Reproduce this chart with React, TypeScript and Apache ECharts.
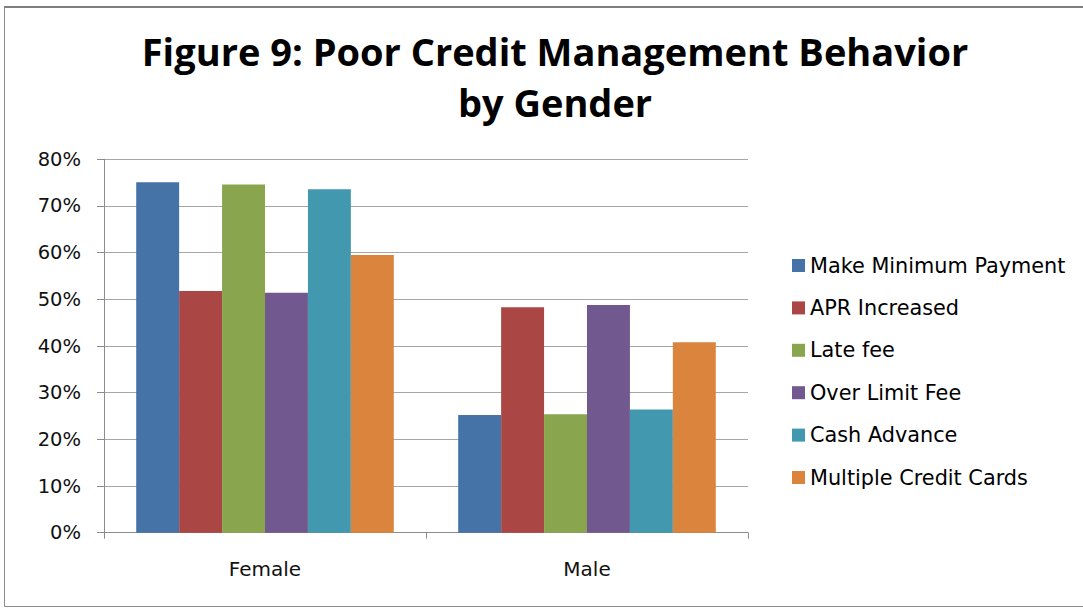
import React, { useEffect, useRef } from "react";
import * as echarts from "echarts";

const categories = ["Female", "Male"];
const seriesNames = [
  "Make Minimum Payment",
  "APR Increased",
  "Late fee",
  "Over Limit Fee",
  "Cash Advance",
  "Multiple Credit Cards",
];
const makeMinimumPayment = [75.1, 25.2];
const aprIncreased = [51.8, 48.3];
const lateFee = [74.6, 25.4];
const overLimitFee = [51.4, 48.8];
const cashAdvance = [73.6, 26.4];
const multipleCreditCards = [59.5, 40.8];
const seriesValues = [
  makeMinimumPayment,
  aprIncreased,
  lateFee,
  overLimitFee,
  cashAdvance,
  multipleCreditCards,
];
const colors = ["#4572A7", "#AA4643", "#89A54E", "#71588F", "#4198AF", "#DB843D"];
const titleText = "Figure 9: Poor Credit Management Behavior\nby Gender";

export default function App() {
  const ref = useRef<HTMLDivElement>(null);
  useEffect(() => {
    document.body.style.margin = "0";
    if (!ref.current) return;
    const chart = echarts.init(ref.current, null, { renderer: "svg" });
    chart.setOption({
      animation: false,
      backgroundColor: "#ffffff",
      title: {
        text: titleText,
        left: 550,
        textAlign: "center",
        top: 20,
        textStyle: {
          fontFamily: "Open Sans",
          fontWeight: "bold",
          fontSize: 38,
          lineHeight: 51,
          color: "#000",
        },
      },
      graphic: [
        {
          type: "rect",
          shape: { x: 4.5, y: 7, width: 1090, height: 599.5 },
          style: { fill: "none", stroke: "#8a8a8a", lineWidth: 1 },
          silent: true,
        },
        {
          type: "line",
          shape: { x1: 4, y1: 7, x2: 1083, y2: 7 },
          style: { stroke: "#7f7f7f", lineWidth: 2 },
          silent: true,
        },
      ],
      legend: {
        orient: "vertical",
        left: 787,
        top: 250,
        itemWidth: 13,
        itemHeight: 13,
        itemGap: 21.4,
        itemTextGap: 8,
        icon: "rect",
        data: seriesNames,
        textStyle: {
          fontFamily: "DejaVu Sans",
          fontSize: 20.8,
          lineHeight: 21,
          color: "#000",
        },
      },
      grid: {
        left: 104,
        right: 335,
        top: 159.3,
        bottom: 75.3,
        containLabel: false,
      },
      xAxis: {
        type: "category",
        data: categories,
        axisLine: { lineStyle: { color: "#8c8c8c", width: 1 } },
        axisTick: { show: true, length: 6, lineStyle: { color: "#8c8c8c" } },
        axisLabel: {
          margin: 26,
          fontFamily: "DejaVu Sans",
          fontSize: 20,
          color: "#111",
        },
      },
      yAxis: {
        type: "value",
        min: 0,
        max: 80,
        interval: 10,
        axisLine: { show: true, lineStyle: { color: "#8c8c8c", width: 1 } },
        axisTick: { show: true, length: 7, lineStyle: { color: "#8c8c8c" } },
        splitLine: { lineStyle: { color: "#a6a6a6", width: 1.2 } },
        axisLabel: {
          margin: 23,
          formatter: "{value}%",
          fontFamily: "DejaVu Sans",
          fontSize: 19.5,
          color: "#111",
        },
      },
      series: seriesNames.map((name, i) => ({
        name,
        type: "bar",
        data: seriesValues[i],
        barGap: "0%",
        barCategoryGap: "20%",
        itemStyle: { color: colors[i] },
      })),
    });
    return () => chart.dispose();
  }, []);
  return <div ref={ref} style={{ width: 1083, height: 608 }} />;
}
